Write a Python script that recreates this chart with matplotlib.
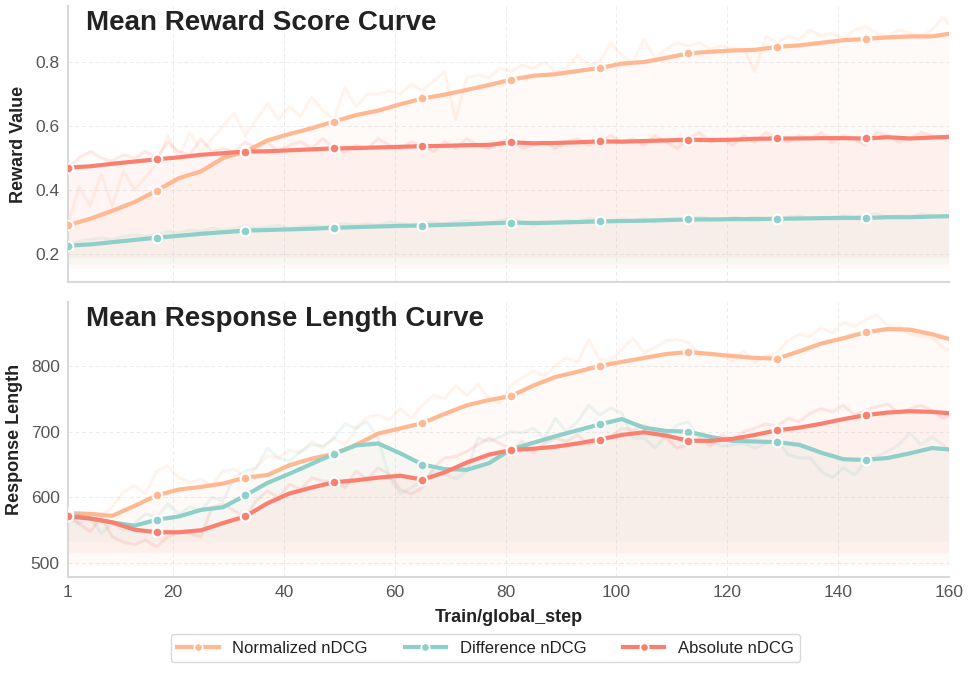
import numpy as np
import matplotlib
matplotlib.use("Agg")
import matplotlib.pyplot as plt
from matplotlib.lines import Line2D

plt.rcParams['font.family'] = ['Liberation Sans', 'DejaVu Sans']

# ---- data -------------------------------------------------------------
labels = ["Normalized nDCG", "Difference nDCG", "Absolute nDCG"]
colors = ["#FFB891", "#8ECFC9", "#FA7F6F"]

# smoothed curves, sampled every 4 steps (1, 5, ..., 157) plus the last step
smooth_steps = list(range(1, 158, 4)) + [160]
# raw curves, sampled every 2 steps (1, 3, ..., 159) plus the last step
raw_steps = list(range(1, 160, 2)) + [160]

reward_smooth_norm = [0.29, 0.31, 0.335, 0.362, 0.398, 0.437, 0.458, 0.50, 0.52, 0.555,
                      0.575, 0.593, 0.614, 0.634, 0.648, 0.668, 0.686, 0.698, 0.713, 0.728,
                      0.745, 0.757, 0.762, 0.772, 0.781, 0.795, 0.80, 0.813, 0.827, 0.832,
                      0.836, 0.838, 0.847, 0.852, 0.86, 0.868, 0.872, 0.877, 0.88, 0.88, 0.888]
reward_smooth_diff = [0.226, 0.230, 0.237, 0.244, 0.251, 0.257, 0.263, 0.268, 0.273, 0.275,
                      0.277, 0.279, 0.282, 0.284, 0.286, 0.288, 0.289, 0.291, 0.293, 0.296,
                      0.298, 0.297, 0.298, 0.300, 0.302, 0.303, 0.304, 0.306, 0.308, 0.308,
                      0.309, 0.309, 0.310, 0.311, 0.312, 0.313, 0.3125, 0.315, 0.315, 0.317, 0.318]
reward_smooth_abs = [0.470, 0.474, 0.482, 0.489, 0.496, 0.502, 0.51, 0.515, 0.52, 0.521,
                     0.524, 0.527, 0.530, 0.531, 0.533, 0.535, 0.537, 0.538, 0.540, 0.541,
                     0.549, 0.546, 0.547, 0.549, 0.552, 0.551, 0.553, 0.555, 0.557, 0.556,
                     0.557, 0.560, 0.561, 0.561, 0.562, 0.562, 0.561, 0.565, 0.561, 0.564, 0.566]

reward_raw_norm = [0.29, 0.41, 0.35, 0.45, 0.35, 0.46, 0.40, 0.44, 0.48, 0.57,
                   0.50, 0.58, 0.52, 0.56, 0.60, 0.64, 0.57, 0.62, 0.67, 0.62,
                   0.66, 0.63, 0.69, 0.65, 0.62, 0.72, 0.66, 0.70, 0.70, 0.71,
                   0.70, 0.73, 0.71, 0.74, 0.77, 0.62, 0.75, 0.76, 0.75, 0.78,
                   0.77, 0.79, 0.78, 0.80, 0.77, 0.78, 0.82, 0.79, 0.80, 0.86,
                   0.82, 0.80, 0.87, 0.81, 0.84, 0.86, 0.85, 0.86, 0.84, 0.85,
                   0.84, 0.84, 0.77, 0.88, 0.86, 0.88, 0.87, 0.90, 0.88, 0.89,
                   0.87, 0.90, 0.91, 0.89, 0.88, 0.90, 0.89, 0.88, 0.90, 0.94, 0.92]
reward_raw_diff = [0.225, 0.24, 0.245, 0.25, 0.245, 0.255, 0.26, 0.255, 0.26, 0.27,
                   0.265, 0.275, 0.27, 0.28, 0.275, 0.28, 0.285, 0.28, 0.285, 0.29,
                   0.28, 0.285, 0.29, 0.285, 0.29, 0.295, 0.29, 0.295, 0.29, 0.30,
                   0.295, 0.29, 0.295, 0.30, 0.295, 0.30, 0.305, 0.30, 0.295, 0.305,
                   0.31, 0.30, 0.29, 0.295, 0.30, 0.305, 0.30, 0.31, 0.305, 0.30,
                   0.31, 0.305, 0.31, 0.30, 0.31, 0.305, 0.31, 0.315, 0.31, 0.305,
                   0.315, 0.31, 0.315, 0.31, 0.305, 0.315, 0.32, 0.31, 0.315, 0.31,
                   0.32, 0.315, 0.32, 0.325, 0.315, 0.32, 0.315, 0.325, 0.32, 0.32, 0.318]
reward_raw_abs = [0.47, 0.50, 0.52, 0.50, 0.49, 0.51, 0.50, 0.52, 0.50, 0.55,
                  0.52, 0.51, 0.56, 0.52, 0.53, 0.52, 0.55, 0.53, 0.55, 0.52,
                  0.54, 0.55, 0.53, 0.56, 0.53, 0.52, 0.54, 0.53, 0.56, 0.54,
                  0.53, 0.55, 0.54, 0.52, 0.55, 0.53, 0.56, 0.54, 0.53, 0.55,
                  0.56, 0.53, 0.54, 0.55, 0.53, 0.55, 0.56, 0.54, 0.55, 0.57,
                  0.55, 0.56, 0.54, 0.57, 0.55, 0.53, 0.56, 0.58, 0.55, 0.56,
                  0.54, 0.57, 0.55, 0.58, 0.56, 0.55, 0.57, 0.56, 0.58, 0.55,
                  0.57, 0.56, 0.54, 0.58, 0.57, 0.55, 0.56, 0.58, 0.57, 0.56, 0.57]

length_smooth_norm = [576, 575, 572, 587, 603, 612, 616, 621, 630, 634,
                      649, 659, 666, 680, 697, 705, 713, 727, 740, 748,
                      754, 770, 783, 791, 800, 806, 812, 818, 821, 818,
                      815, 812, 811, 822, 834, 842, 851, 856, 855, 848, 841]
length_smooth_diff = [574, 568, 562, 557, 566, 571, 581, 585, 603, 622,
                      636, 651, 666, 679, 682, 667, 650, 643, 642, 652,
                      673, 683, 693, 702, 711, 719, 706, 701, 700, 692,
                      686, 685, 684, 680, 668, 658, 657, 660, 667, 675, 673]
length_smooth_abs = [571, 568, 562, 551, 547, 547, 550, 561, 571, 591,
                     606, 615, 623, 626, 630, 633, 627, 638, 653, 665,
                     672, 674, 677, 682, 688, 695, 699, 694, 686, 686,
                     689, 695, 702, 706, 712, 719, 725, 729, 731, 730, 728]

length_raw_norm = [576, 578, 568, 572, 585, 608, 618, 605, 640, 648,
                   630, 622, 628, 618, 640, 643, 630, 645, 663, 660,
                   672, 668, 685, 675, 690, 680, 705, 722, 725, 718,
                   735, 720, 740, 755, 750, 770, 755, 772, 750, 745,
                   770, 782, 792, 784, 800, 812, 805, 840, 810, 808,
                   825, 842, 820, 828, 838, 840, 835, 818, 820, 815,
                   808, 822, 805, 815, 820, 838, 848, 845, 858, 850,
                   866, 860, 870, 877, 862, 860, 848, 845, 843, 828, 824]
length_raw_diff = [578, 560, 572, 545, 560, 550, 560, 575, 570, 590,
                   575, 585, 580, 600, 595, 630, 640, 645, 675, 660,
                   655, 670, 680, 678, 690, 712, 705, 715, 690, 630,
                   605, 615, 625, 640, 635, 628, 640, 690, 685, 692,
                   700, 698, 705, 690, 720, 700, 715, 740, 725, 736,
                   728, 690, 690, 675, 695, 710, 715, 690, 685, 678,
                   680, 682, 675, 682, 688, 665, 660, 660, 640, 630,
                   645, 634, 655, 662, 670, 680, 698, 680, 692, 680, 670]
length_raw_abs = [570, 560, 548, 570, 540, 532, 528, 535, 525, 540,
                  548, 545, 540, 585, 590, 580, 570, 595, 610, 600,
                  620, 612, 630, 625, 625, 615, 640, 628, 645, 635,
                  612, 605, 615, 645, 660, 662, 670, 680, 690, 682,
                  672, 685, 668, 682, 690, 685, 695, 680, 690, 692,
                  705, 702, 710, 700, 690, 675, 680, 690, 678, 695,
                  688, 700, 705, 712, 708, 720, 715, 728, 735, 730,
                  740, 725, 732, 738, 742, 728, 735, 740, 732, 720, 724]

x_ticks = [1, 20, 40, 60, 80, 100, 120, 140, 160]

panels = [
    dict(title="Mean Reward Score Curve", ylabel="Reward Value",
         smooth=[reward_smooth_norm, reward_smooth_diff, reward_smooth_abs],
         raw=[reward_raw_norm, reward_raw_diff, reward_raw_abs],
         base=[0.156, 0.17, 0.19], ylim=(0.1125, 0.975),
         yticks=[0.2, 0.4, 0.6, 0.8], fmt="{:.1f}"),
    dict(title="Mean Response Length Curve", ylabel="Response Length",
         smooth=[length_smooth_norm, length_smooth_diff, length_smooth_abs],
         raw=[length_raw_norm, length_raw_diff, length_raw_abs],
         base=[496, 533, 516], ylim=(479, 897),
         yticks=[500, 600, 700, 800], fmt="{:.0f}"),
]

# ---- figure -----------------------------------------------------------
fig = plt.figure(figsize=(9.71, 6.74), dpi=100)
ax_top = fig.add_axes([0.070, 0.5816, 0.907, 0.4095])
ax_bot = fig.add_axes([0.070, 0.1439, 0.907, 0.408])

for ax, p in zip([ax_top, ax_bot], panels):
    for i in range(3):
        sm = np.array(p["smooth"][i], dtype=float)
        ax.fill_between(smooth_steps, sm, p["base"][i], color=colors[i],
                        alpha=0.07, linewidth=0, zorder=1)
    for i in range(3):
        ax.plot(raw_steps, p["raw"][i], color=colors[i], lw=2.2, alpha=0.17,
                zorder=2)
    for i in range(3):
        ax.plot(smooth_steps, p["smooth"][i], color=colors[i], lw=3,
                marker='o', markersize=7, markeredgecolor='white',
                markeredgewidth=1.5, markevery=list(range(0, 40, 4)),
                zorder=3 + i)

    ax.set_xlim(1, 160)
    ax.set_ylim(*p["ylim"])
    ax.set_xticks(x_ticks)
    ax.set_yticks(p["yticks"])
    ax.set_yticklabels([p["fmt"].format(v) for v in p["yticks"]])
    ax.grid(True, linestyle=(0, (4, 3)), color='#ececec', linewidth=0.7)
    ax.set_axisbelow(True)
    for side in ["top", "right"]:
        ax.spines[side].set_visible(False)
    for side in ["left", "bottom"]:
        ax.spines[side].set_color('#d9d9d9')
        ax.spines[side].set_linewidth(1.5)
    ax.tick_params(length=0, labelsize=12.5, labelcolor='#555555', pad=6)
    ax.set_ylabel(p["ylabel"], fontsize=13, fontweight='bold', color='#222222')
    ax.text(0.021, 0.985, p["title"], transform=ax.transAxes, ha='left', va='top',
            fontsize=20, fontweight='bold', color='#222222', zorder=10)

ax_top.tick_params(labelbottom=False)
ax_bot.set_xlabel("Train/global_step", fontsize=13, fontweight='bold',
                  color='#222222', labelpad=6)
ax_top.yaxis.set_label_coords(-0.0465, 0.5)
ax_bot.yaxis.set_label_coords(-0.051, 0.5)

handles = [Line2D([0], [0], color=c, lw=3, marker='o', markersize=6,
                  markeredgecolor='white', markeredgewidth=1.2) for c in colors]
leg = fig.legend(handles, labels, loc='lower center', ncol=3,
                 bbox_to_anchor=(0.5, 0.005), fontsize=12, frameon=True,
                 fancybox=True, edgecolor='#d0d0d0', columnspacing=2.2,
                 handlelength=2.5)
for t in leg.get_texts():
    t.set_color('#222222')

fig.savefig("out.png", dpi=100)
